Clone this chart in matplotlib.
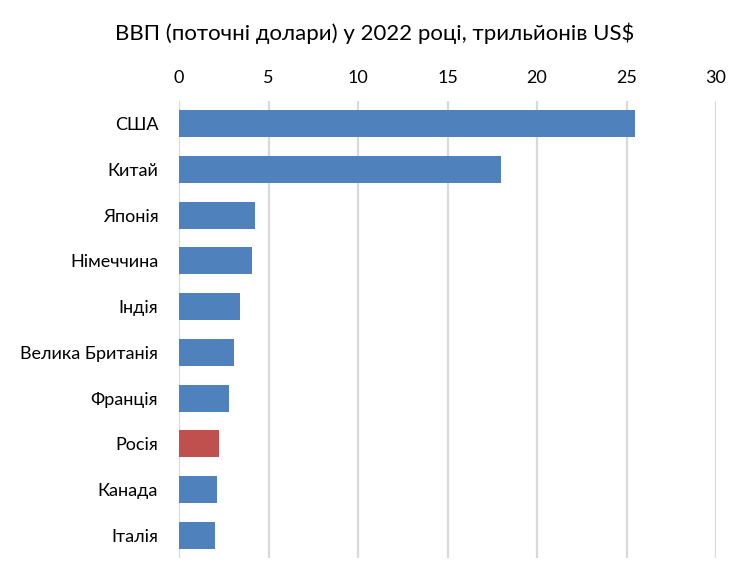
import matplotlib.pyplot as plt

plt.rcParams['font.family'] = ['Lato', 'DejaVu Sans']

countries = ["США", "Китай", "Японія", "Німеччина", "Індія", "Велика Британія",
             "Франція", "Росія", "Канада", "Італія"]
gdp = [25.46, 17.96, 4.23, 4.07, 3.39, 3.07, 2.78, 2.24, 2.14, 2.01]
highlight = "Росія"

blue, red = "#4f81bd", "#c0504d"
colors = [red if c == highlight else blue for c in countries]

fig = plt.figure(figsize=(7.5, 5.81), dpi=100)
ax = fig.add_axes([0.2387, 0.0396, 0.716, 0.7866])

ypos = list(range(len(countries)))
ax.barh(ypos, gdp, height=0.59, color=colors, zorder=3)
ax.set_ylim(len(countries) - 0.5, -0.5)
ax.set_xlim(0, 30)
ax.set_xticks(range(0, 31, 5))
ax.set_yticks(ypos)
ax.set_yticklabels(countries)

ax.xaxis.tick_top()
ax.tick_params(axis='both', length=0, labelsize=13, colors='#000000')
ax.tick_params(axis='y', pad=15)
ax.tick_params(axis='x', pad=11)
ax.grid(axis='x', color='#d9d9d9', linewidth=1.6, zorder=0)
for s in ax.spines.values():
    s.set_visible(False)

fig.text(0.5, 0.943, "ВВП (поточні долари) у 2022 році, трильйонів US$",
         ha='center', va='center', fontsize=16)

fig.savefig("out.png", dpi=100, facecolor='white')
